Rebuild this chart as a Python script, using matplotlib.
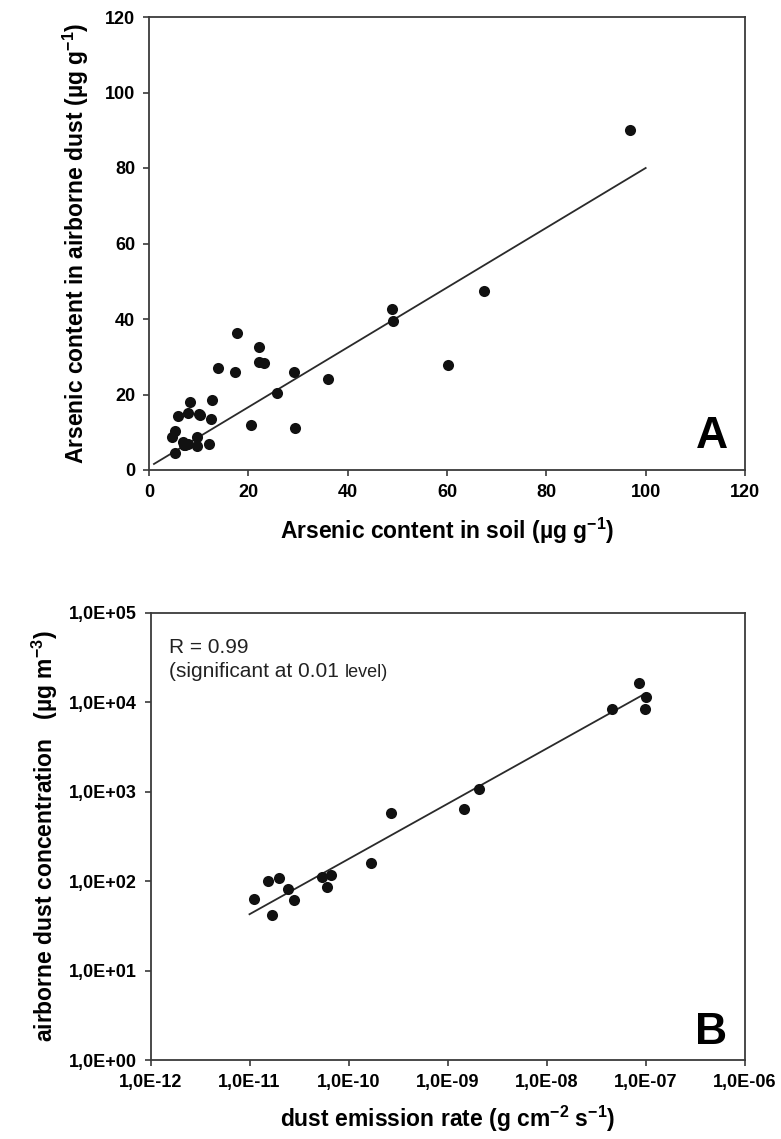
import matplotlib
matplotlib.use("Agg")
import matplotlib.pyplot as plt
from matplotlib.ticker import FixedLocator, FuncFormatter, NullLocator
import numpy as np

plt.rcParams['font.family'] = ['Liberation Sans', 'DejaVu Sans']
plt.rcParams['mathtext.fontset'] = 'custom'
plt.rcParams['mathtext.rm'] = 'Liberation Sans'
plt.rcParams['mathtext.bf'] = 'Liberation Sans:bold'
plt.rcParams['mathtext.it'] = 'Liberation Sans:italic'

# ---------------- Panel A data ----------------
soil_as = [17.8, 22.1, 22.2, 23.1, 13.8, 17.4, 29.2, 36.0, 25.8, 8.2, 12.7,
           5.85, 7.9, 10.0, 10.3, 12.4, 20.6, 29.3, 5.3, 4.6, 9.6, 6.8, 7.3,
           7.8, 7.0, 9.6, 12.0, 5.2, 49.0, 49.1, 60.3, 67.5, 96.9]
dust_as = [36.2, 32.7, 28.7, 28.3, 26.9, 26.0, 26.0, 24.0, 20.3, 18.1, 18.5,
           14.4, 15.0, 14.8, 14.6, 13.4, 12.0, 11.0, 10.2, 8.7, 8.8, 7.4, 6.6,
           7.0, 6.5, 6.4, 6.8, 4.6, 42.6, 39.5, 27.8, 47.4, 90.1]
fitA_x = [1.0, 100.0]
fitA_y = [1.6, 80.0]
ticksA = [0, 20, 40, 60, 80, 100, 120]

# ---------------- Panel B data ----------------
emission = [1.12e-11, 1.55e-11, 1.7e-11, 2.0e-11, 2.45e-11, 2.8e-11, 5.4e-11,
            6.0e-11, 6.6e-11, 1.7e-10, 2.7e-10, 1.48e-9, 2.1e-9, 4.6e-8,
            8.5e-8, 9.8e-8, 1.02e-7]
concentration = [63, 101, 42, 109, 81, 62, 110, 87, 117, 161, 575, 645, 1070,
                 8400, 16500, 8400, 11500]
fitB_x = [1.0e-11, 1.0e-7]
fitB_y = [42.7, 12600]
xticksB = [1e-12, 1e-11, 1e-10, 1e-9, 1e-8, 1e-7, 1e-6]
yticksB = [1e0, 1e1, 1e2, 1e3, 1e4, 1e5]

W, H = 781, 1139
fig = plt.figure(figsize=(W / 100, H / 100), dpi=100)

spine_col = '#3a3a3a'
dot_col = '#111111'
line_col = '#2a2a2a'
tick_fs = 13
label_fs = 16.5


def style_axes(ax):
    for s in ax.spines.values():
        s.set_color(spine_col)
        s.set_linewidth(1.3)
    ax.tick_params(direction='out', length=4, width=1.2, color=spine_col,
                   labelsize=tick_fs, pad=6, top=False, right=False)
    for lab in ax.get_xticklabels() + ax.get_yticklabels():
        lab.set_fontweight('bold')


def frac(x0, y0, x1, y1):
    return [x0 / W, 1 - y1 / H, (x1 - x0) / W, (y1 - y0) / H]


# Panel A
axA = fig.add_axes(frac(149, 17, 745, 470))
axA.scatter(soil_as, dust_as, s=64, color=dot_col, zorder=3, linewidths=0)
axA.plot(fitA_x, fitA_y, color=line_col, lw=1.3, zorder=2)
axA.set_xlim(0, 120)
axA.set_ylim(0, 120)
axA.xaxis.set_major_locator(FixedLocator(ticksA))
axA.yaxis.set_major_locator(FixedLocator(ticksA))
style_axes(axA)
axA.set_xlabel(r'Arsenic content in soil (µg g$^{\mathbf{-1}}$)',
               fontsize=label_fs, fontweight='bold', labelpad=11)
axA.set_ylabel(r'Arsenic content in airborne dust (µg g$^{\mathbf{-1}}$)',
               fontsize=label_fs, fontweight='bold', labelpad=10)
axA.text(0.9446, 0.075, 'A', transform=axA.transAxes, fontsize=32,
         fontweight='bold', ha='center', va='center')

# Panel B
axB = fig.add_axes(frac(150.5, 613, 744.5, 1060))
axB.set_xscale('log')
axB.set_yscale('log')
axB.scatter(emission, concentration, s=64, color=dot_col, zorder=3, linewidths=0)
axB.plot(fitB_x, fitB_y, color=line_col, lw=1.3, zorder=2)
axB.set_xlim(1e-12, 1e-6)
axB.set_ylim(1e0, 1e5)
axB.xaxis.set_major_locator(FixedLocator(xticksB))
axB.yaxis.set_major_locator(FixedLocator(yticksB))
axB.xaxis.set_minor_locator(NullLocator())
axB.yaxis.set_minor_locator(NullLocator())
fmt = FuncFormatter(lambda v, p: '1,0E{:+03d}'.format(int(round(np.log10(v)))))
axB.xaxis.set_major_formatter(fmt)
axB.yaxis.set_major_formatter(fmt)
style_axes(axB)
axB.set_xlabel(r'dust emission rate (g cm$^{\mathbf{-2}}$ s$^{\mathbf{-1}}$)',
               fontsize=label_fs, fontweight='bold', labelpad=9)
axB.set_ylabel(r'airborne dust concentration   (µg m$^{\mathbf{-3}}$)',
               fontsize=label_fs, fontweight='bold', labelpad=6)
axB.text(0.9436, 0.0626, 'B', transform=axB.transAxes, fontsize=32,
         fontweight='bold', ha='center', va='center')

t1 = axB.text(0.0317, 0.945, 'R = 0.99', transform=axB.transAxes,
              fontsize=15, ha='left', va='top', color='#222222')
t2 = axB.text(0.0317, 0.89, '(significant at 0.01 ', transform=axB.transAxes,
              fontsize=15, ha='left', va='top', color='#222222')
axB.annotate('level)', xy=(1, 0), xycoords=t2, fontsize=13, ha='left',
             va='bottom', color='#222222')

fig.savefig('out.png', dpi=100)
